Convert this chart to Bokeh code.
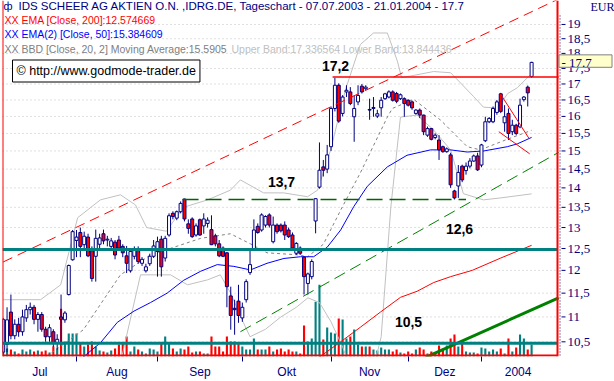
from bokeh.plotting import figure
from bokeh.models import Range1d, LinearScale, FixedTicker, Span, Label
from bokeh.embed import file_html
from bokeh.resources import INLINE
import math

# ---------------- data (daily candles 07.07.2003 - 21.01.2004) ----------------
opens = [10.3, 10.45, 11.1, 10.62, 10.85, 10.7, 10.98, 11.15, 11.2, 10.95, 11.05, 10.75, 10.6, 10.7, 10.48, 11.0, 10.94, 11.47, 12.24,
         12.69, 12.88, 12.59, 12.77, 12.45, 12.32, 12.6, 12.85, 12.7, 12.55, 12.65, 12.7, 12.55, 12.33, 11.99, 12.32, 12.47, 12.16, 11.99, 12.15, 12.32,
         12.43, 12.72, 12.28, 12.82, 13.35, 13.23, 13.39, 13.71, 13.09, 13.21, 12.82, 13.19, 13.04, 13.1, 12.95, 12.8, 12.61, 12.51, 12.4, 11.44, 11.18, 11.33,
         10.98, 11.36, 11.95, 12.47, 13.03, 12.94, 13.06, 13.31, 12.66, 13.06, 13.06, 13.06, 12.94, 12.82, 12.39, 12.51, 12.3, 11.71, 11.86, 13.16, 14.02, 14.56, 14.5,
         15.12, 16.24, 16.96, 16.09, 16.75, 16.75, 15.99, 16.44, 16.93, 16.85, 16.21, 16.24, 16.01, 16.26, 16.54, 16.59, 16.75, 16.7, 16.54, 16.54,
         16.49, 16.44, 16.09, 16.19, 16.04, 15.45, 15.64, 15.38, 15.31, 15.12, 14.98, 14.89, 13.92, 14.05, 14.58, 14.46, 14.58, 14.72, 14.86,
         14.61, 15.29, 15.84, 15.84, 16.12, 16.69, 15.81, 16.09, 15.55, 15.74, 15.69, 16.51, 16.9, 17.24]
highs = [10.98, 11.2, 11.47, 10.95, 10.98, 11.15, 11.25, 11.3, 11.25, 11.1, 11.1, 10.8, 10.85, 10.75, 10.65, 11.47, 11.12, 12.13, 12.94,
         12.94, 13.0, 12.9, 12.85, 12.55, 12.95, 12.85, 12.95, 12.8, 12.75, 12.7, 12.8, 12.6, 12.56, 12.5, 12.55, 12.55, 12.3, 12.15, 12.38, 12.7,
         12.78, 12.8, 12.8, 13.35, 13.4, 13.42, 13.65, 13.72, 13.2, 13.25, 13.1, 13.22, 13.35, 13.25, 13.3, 12.85, 12.7, 12.55, 12.42, 11.64, 11.36, 11.68,
         11.3, 11.8, 12.5, 13.2, 13.1, 13.35, 13.3, 13.35, 13.27, 13.1, 13.1, 13.15, 13.0, 12.88, 12.65, 12.55, 12.32, 11.95, 12.25, 13.73, 15.24, 14.75, 15.17,
         16.3, 17.2, 17.02, 16.65, 16.96, 16.9, 16.64, 16.96, 17.0, 16.96, 16.54, 16.59, 16.2, 16.59, 16.72, 16.8, 16.8, 16.75, 16.7, 16.58,
         16.52, 16.48, 16.22, 16.24, 16.05, 15.7, 15.66, 15.5, 15.45, 15.15, 15.1, 14.95, 13.95, 14.61, 14.62, 14.68, 14.8, 14.9, 14.95,
         15.2, 15.99, 15.98, 16.3, 16.5, 16.72, 16.34, 16.24, 15.9, 15.78, 16.54, 16.62, 16.95, 17.72]
lows = [10.25, 10.3, 10.55, 10.55, 10.6, 10.62, 10.9, 11.05, 10.85, 10.7, 10.7, 10.5, 10.5, 10.4, 10.35, 10.45, 10.88, 11.45, 12.22,
        12.3, 12.3, 12.5, 12.3, 11.75, 11.75, 12.45, 12.6, 12.55, 12.45, 12.25, 12.45, 12.3, 11.94, 11.95, 12.25, 12.15, 12.1, 11.95, 12.1, 12.28,
        11.86, 11.86, 12.2, 12.78, 13.2, 13.18, 13.35, 13.15, 12.85, 12.75, 12.78, 12.8, 12.85, 13.0, 12.58, 12.55, 12.3, 12.3, 11.2, 10.74, 10.64, 10.88,
        10.9, 11.3, 11.9, 12.45, 12.85, 12.9, 13.0, 13.0, 12.62, 12.85, 12.88, 12.7, 12.75, 12.5, 12.35, 12.35, 11.47, 11.47, 11.8, 12.86, 13.98, 14.3, 14.39,
        15.0, 16.15, 15.81, 16.0, 16.59, 16.34, 15.26, 16.34, 16.7, 16.8, 15.9, 15.99, 15.95, 15.99, 16.5, 16.55, 16.45, 16.4, 16.5, 15.99,
        16.3, 16.2, 16.05, 15.95, 15.45, 15.4, 15.3, 15.33, 14.75, 14.95, 14.95, 14.0, 13.7, 13.74, 14.15, 14.35, 14.52, 14.7, 14.45,
        14.55, 15.25, 15.8, 15.8, 16.05, 16.1, 15.55, 15.31, 15.45, 15.45, 15.65, 16.45, 16.3, 17.2]
closes = [10.95, 10.94, 10.62, 10.85, 10.7, 11.0, 11.15, 11.2, 10.95, 11.05, 10.75, 10.6, 10.78, 10.48, 10.55, 10.95, 11.08, 12.11, 12.9,
          12.77, 12.55, 12.79, 12.33, 11.82, 12.74, 12.75, 12.68, 12.72, 12.68, 12.35, 12.51, 12.4, 12.16, 12.43, 12.47, 12.2, 12.25, 12.08, 12.32, 12.56,
          12.66, 12.08, 12.74, 13.29, 13.27, 13.39, 13.6, 13.21, 12.98, 12.78, 13.04, 12.82, 13.21, 13.18, 12.59, 12.61, 12.33, 12.32, 11.64, 11.03, 11.15, 11.03,
          11.2, 11.75, 12.13, 12.94, 12.88, 13.31, 13.27, 13.06, 13.06, 12.9, 12.92, 12.82, 12.78, 12.51, 12.62, 12.39, 11.86, 11.92, 12.2, 13.72, 14.47, 14.47, 14.89,
          16.24, 16.96, 15.86, 16.59, 16.8, 16.39, 16.24, 16.64, 16.75, 16.9, 16.19, 16.27, 16.08, 16.49, 16.69, 16.75, 16.49, 16.46, 16.66, 16.39,
          16.34, 16.26, 16.19, 16.04, 15.55, 15.64, 15.33, 15.45, 15.03, 14.98, 15.06, 14.08, 13.74, 14.41, 14.21, 14.58, 14.72, 14.86, 14.48,
          15.17, 15.84, 15.94, 16.24, 16.44, 16.15, 15.99, 15.5, 15.74, 15.5, 16.34, 16.59, 16.72, 17.7]
volume = [6, 8, 7, 5, 3, 7, 5, 7, 5, 6, 5, 6, 4, 10, 8, 48, 15, 23, 23, 23, 13, 10, 12, 15, 10, 6, 5, 4, 6, 8, 12,
          14, 20, 5, 10, 7, 5, 3, 8, 7, 5, 14, 20, 14, 8, 5, 8, 7, 10, 4, 5, 5,
          3, 3, 20, 10, 10, 5, 20, 15, 15, 13, 10, 7, 7, 18, 7, 7, 7, 10, 5, 7, 8, 5, 7, 5, 5, 3, 31, 15, 18, 55, 72, 17, 29,
          24, 23, 38, 37, 18, 20, 27, 12, 10, 10, 10, 7, 6, 9, 7, 7, 5, 7, 4,
          3, 5, 3, 7, 9, 7, 3, 5, 3, 11, 8, 11, 18, 22, 10, 14, 5, 4, 4, 3,
          9, 8, 5, 7, 5, 8, 3, 18, 5, 9, 22, 18, 7, 12]
idx = list(range(len(closes)))
last_close = 17.7

month_names = ["Jul", "Aug", "Sep", "Okt", "Nov", "Dez", "2004"]
month_start = [0, 19, 40, 62, 85, 105, 124]

price_ticks = [10.5, 11, 11.5, 12, 12.5, 13, 13.5, 14, 14.5, 15, 15.5, 16, 16.5, 17, 17.5, 18, 18.5, 19]

# indicator lines (trading-day index, price)
ema200_x = [80, 87.5, 92.6, 97.8, 103, 107.3, 111.6, 116, 121.6, 129, 137]
ema200_y = [10.1, 10.5, 10.79, 11.1, 11.41, 11.54, 11.73, 11.86, 12.0, 12.28, 12.575]
ema50_x = [19, 25.2, 29.6, 33.9, 38.2, 42.5, 46.8, 51.2, 55.5, 59.8, 64.1, 68.4, 72.8, 77.1, 80.5, 84, 87.5, 90.9, 94.4, 99.6, 104.7, 110.8, 116, 120.3, 124.6, 130.7, 133.3, 137]
ema50_y = [10.1, 10.48, 10.89, 11.12, 11.3, 11.5, 11.78, 11.98, 12.13, 12.09, 12.01, 12.16, 12.27, 12.31, 12.31, 12.53, 12.94, 13.52, 14.04, 14.56, 14.88, 15.03, 15.03, 14.97, 15.0, 15.12, 15.2, 15.385]
ma20_x = [10, 20.8, 25.2, 30.4, 38.2, 51.2, 58.9, 64.1, 68.4, 77.1, 78.8, 83, 87.5, 92.6, 99.6, 100.9, 106.4, 113.4, 120.3, 123.7, 130.2, 137]
ma20_y = [10.15, 10.74, 11.26, 11.9, 12.35, 12.74, 12.85, 12.61, 12.4, 12.35, 12.3, 12.6, 13.43, 14.4, 15.98, 16.24, 16.52, 15.89, 15.12, 15.03, 15.31, 15.5905]
bbu_x = [0, 9.7, 14.9, 19.3, 25.2, 30.4, 34.3, 37.2, 42.3, 46.7, 53, 58.9, 61.5, 67.5, 72.7, 78.9, 81.5, 84.9, 88.7, 92.6, 96, 99.6, 102.2, 103.3, 111.6, 116, 118.6, 122, 124.5, 128.2, 130.8, 133.3, 137]
bbu_y = [11.36, 11.36, 11.68, 13.24, 13.69, 13.82, 13.56, 13.0, 12.91, 13.5, 13.69, 13.94, 14.21, 13.87, 13.87, 13.77, 13.94, 15.03, 16.8, 18.3, 18.7, 18.7, 17.74, 17.2, 17.4, 17.36, 17.03, 16.6, 16.28, 16.25, 16.7, 16.88, 17.336564]
bbl_x = [30.4, 35.6, 43.4, 47.8, 53, 56.3, 58.9, 62.3, 64, 68, 72, 76, 79, 82, 85, 88, 90, 96, 98, 100.5, 103, 107.3, 111.6, 116, 119.3, 124.5, 129, 137]
bbl_y = [10.1, 11.9, 11.9, 11.68, 11.79, 11.9, 11.51, 10.88, 10.6, 10.75, 11.0, 11.2, 11.4, 11.3, 10.9, 10.4, 10.0, 10.0, 10.6, 13.5, 15.98, 16.04, 15.6, 15.03, 13.85, 13.69, 13.74, 13.844436]

# drawn trend lines / levels (index, price)
channel_red_x, channel_red_y = [0, 143.9], [12.19, 19.92]
channel_green_x, channel_green_y = [61.5, 144], [10.7, 14.96]
trend_green_x, trend_green_y = [109.5, 144], [10.2, 11.4]
res_172_x, res_172_y = [85.4, 144], [17.22, 17.22]
lvl_137_x, lvl_137_y = [46.5, 120], [13.7, 13.7]
flag_a_x, flag_a_y = [128.9, 136.3], [16.69, 15.36]
flag_b_x, flag_b_y = [128.5, 136.5], [15.55, 14.92]
support_levels = [12.48, 10.47]

NAVY = "#000080"
FONT = "Liberation Sans"

# ---------------- geometry of the canvas ----------------
W, H = 614, 381
FRAME_LEFT, FRAME_BOTTOM = 2, 24
PX_PER_DAY = 3.857
X0 = -0.18
X1 = X0 + (W - FRAME_LEFT) / PX_PER_DAY
Y0, Y1 = 10.216, 19.87
FRAME_H = H - FRAME_BOTTOM


def px_x(px):
    """canvas pixel column -> x data value"""
    return X0 + (px - FRAME_LEFT) / PX_PER_DAY


def px_y(py):
    """canvas pixel row -> price (log scale)"""
    frac = (FRAME_H - py) / FRAME_H
    return math.exp(math.log(Y0) + frac * (math.log(Y1) - math.log(Y0)))


CHART_END = px_x(557)

p = figure(width=W, height=H, output_backend="svg", toolbar_location=None,
           x_range=Range1d(X0, X1), y_range=Range1d(Y0, Y1),
           y_axis_type="log", y_axis_location=None,
           min_border_left=FRAME_LEFT, min_border_right=0, min_border_top=0, min_border_bottom=FRAME_BOTTOM)
p.extra_y_ranges = {"vol": Range1d(0, 357)}
p.extra_y_scales = {"vol": LinearScale()}
p.outline_line_color = None
p.background_fill_color = "white"
p.border_fill_color = "white"
p.xgrid.visible = False
p.ygrid.visible = False

# bottom axis
mid = [(month_start[i] + (month_start[i + 1] if i + 1 < len(month_start) else month_start[i] + 19)) / 2
       for i in range(len(month_start))]
p.xaxis.ticker = FixedTicker(ticks=mid, minor_ticks=month_start[1:])
p.xaxis.major_label_overrides = {m: n for m, n in zip(mid, month_names)}
p.xaxis.major_tick_out = 0
p.xaxis.major_tick_in = 0
p.xaxis.minor_tick_out = 5
p.xaxis.minor_tick_in = 0
p.xaxis.minor_tick_line_color = NAVY
p.xaxis.axis_line_color = None
p.xaxis.major_label_text_color = NAVY
p.xaxis.major_label_text_font = FONT
p.xaxis.major_label_text_font_size = "12px"
p.xaxis.major_label_standoff = 3

# horizontal dotted grid (only inside the chart area)
p.segment(x0=[X0] * len(price_ticks), x1=[CHART_END] * len(price_ticks), y0=price_ticks, y1=price_ticks,
          line_color="#c0c0c0", line_dash="1 3", line_width=1)

# volume
vol_colors = ["#008080" if c >= o else "#ff0000" for o, c in zip(opens, closes)]
p.vbar(x=idx, width=0.55, top=volume, bottom=0, y_range_name="vol", fill_color=vol_colors, line_color=None)

# bollinger bands / moving averages
p.line(bbu_x, bbu_y, line_color="#c0c0c0", line_width=1)
p.line(bbl_x, bbl_y, line_color="#c0c0c0", line_width=1)
p.line(ma20_x, ma20_y, line_color="#808080", line_width=1, line_dash="3 3")
p.line(ema200_x, ema200_y, line_color="#ff0000", line_width=1)
p.line(ema50_x, ema50_y, line_color="#0000ff", line_width=1)

# candles
body_top = [max(o, c) for o, c in zip(opens, closes)]
body_bot = [min(o, c) for o, c in zip(opens, closes)]
fills = ["white" if c >= o else "#ff0000" for o, c in zip(opens, closes)]
p.segment(x0=idx, y0=lows, x1=idx, y1=highs, line_color=NAVY, line_width=1)
p.vbar(x=idx, width=0.78, top=body_top, bottom=body_bot, fill_color=fills, line_color=NAVY, line_width=1)

# drawn lines
p.line(channel_red_x, channel_red_y, line_color="#ff0000", line_width=1, line_dash="10 6")
p.line(channel_green_x, channel_green_y, line_color="#008000", line_width=1, line_dash="12 6")
p.line(trend_green_x, trend_green_y, line_color="#008000", line_width=3)
p.line(res_172_x, res_172_y, line_color="#ff0000", line_width=1.5)
p.line(lvl_137_x, lvl_137_y, line_color="#006400", line_width=1.5, line_dash="16 7")
p.line(flag_a_x, flag_a_y, line_color="#ff0000", line_width=1)
p.line(flag_b_x, flag_b_y, line_color="#ff0000", line_width=1)
for lv in support_levels:
    p.segment(x0=[X0], x1=[CHART_END], y0=[lv], y1=[lv], line_color="#008080", line_width=3)

# frame edges (red): left, right, bottom
p.add_layout(Span(location=X0, dimension="height", line_color="#ff0000", line_width=2))
p.segment(x0=[CHART_END], x1=[CHART_END], y0=[Y0], y1=[Y1], line_color="#ff0000", line_width=2)
p.segment(x0=[X0], x1=[CHART_END], y0=[px_y(356)], y1=[px_y(356)], line_color="#ff0000", line_width=2)

# right price scale (drawn in the area right of the chart)
n = len(price_ticks)
p.segment(x0=[px_x(559.5)], x1=[px_x(559.5)], y0=[px_y(15)], y1=[Y0], line_color=NAVY, line_dash="1 2", line_width=1)
p.segment(x0=[px_x(561)] * n, x1=[px_x(565)] * n, y0=price_ticks, y1=price_ticks, line_color=NAVY, line_width=1)
p.text(x=[px_x(567)] * n, y=price_ticks, text=[("%g" % t).replace(".", ",") for t in price_ticks],
       text_color=NAVY, text_font=FONT, text_font_size="13px", text_baseline="middle", text_align="left")
p.text(x=[px_x(590)], y=[px_y(7)], text=["EUR"], text_color=NAVY, text_font=FONT, text_font_size="12px",
       text_baseline="middle", text_align="left")
p.quad(left=[px_x(558.5)], right=[px_x(611.5)], top=[px_y(54.5)], bottom=[px_y(67)],
       fill_color="#ffffcc", line_color="#808080", line_width=1)
p.text(x=[px_x(561)], y=[last_close], text=["- " + ("%g" % last_close)], text_color=NAVY, text_font=FONT,
       text_font_size="13px", text_baseline="middle", text_align="left")


def lab(text, x, y, color, size, style="normal", align="left", **kw):
    p.add_layout(Label(x=x, y=y, x_units="screen", y_units="screen", text=text,
                       text_color=color, text_font=FONT, text_font_size=size,
                       text_font_style=style, text_align=align, text_baseline="middle", **kw))


lab("ф", 1, 350.5, NAVY, "11px")
lab("IDS SCHEER AG AKTIEN O.N. ,IDRG.DE, Tageschart - 07.07.2003 - 21.01.2004 - 17.7", 16, 350.5, NAVY, "11.5px")
lab("XX EMA [Close, 200]:12.574669", 2, 336.5, "#ff0000", "10.5px")
lab("XX EMA(2) [Close, 50]:15.384609", 2, 323, "#0000ff", "10.5px")
lab("XX BBD [Close, 20, 2] Moving Average:15.5905", 2, 308, "#808080", "10.5px")
lab("Upper Band:17.336564 Lower Band:13.844436", 229, 308, "#c0c0c0", "10.5px")
lab("© http://www.godmode-trader.de", 10, 285.5, "black", "12.5px",
    border_line_color="black", background_fill_color="white", padding=4)
lab("17,2", 333, 291, "black", "14px", "bold", "center")
lab("13,7", 279, 174.5, "black", "14px", "bold", "center")
lab("12,6", 457, 128, "black", "14px", "bold", "center")
lab("10,5", 406, 35, "black", "14px", "bold", "center")

open("out.html", "w").write(file_html(p, INLINE))
